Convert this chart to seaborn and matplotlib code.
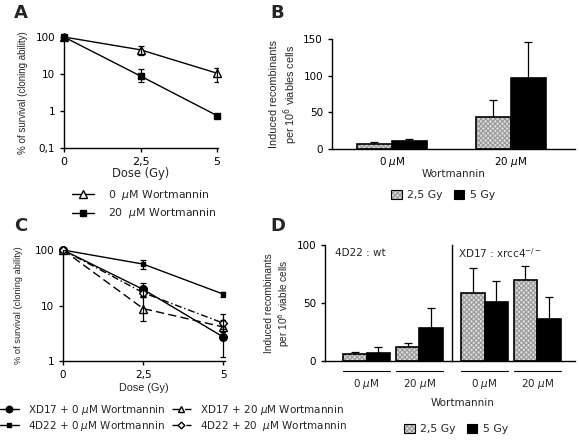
import numpy as np
import pandas as pd
import matplotlib
matplotlib.use("Agg")
import matplotlib.pyplot as plt
import matplotlib.transforms as mtransforms
import matplotlib.colors as mcolors
from matplotlib.patches import Patch
from matplotlib.lines import Line2D
import seaborn as sns

# ---------------- data ----------------
doses = [0, 2.5, 5]
dose_labels = ["0", "2,5", "5"]

# Panel A (survival, % ; low / high ends of error bars)
a_wm0 = [100, 45, 10.5]
a_wm0_lo = [100, 32, 6.2]
a_wm0_hi = [100, 57, 14.8]
a_wm20 = [100, 8.8, 0.75]
a_wm20_lo = [100, 6.2, 0.65]
a_wm20_hi = [100, 13.4, 0.85]

# Panel B (induced recombinants per 10^6 viable cells)
b_groups = ["0 $\\mu$M", "20 $\\mu$M"]
b_gy25 = [7, 44]
b_gy25_err = [2.5, 23]
b_gy5 = [10.5, 97]
b_gy5_err = [3.2, 49]

# Panel C (survival, %)
c_xd17_wm0 = [100, 19.5, 2.7]
c_xd17_wm0_lo = [100, 15, 1.2]
c_xd17_wm0_hi = [100, 25, 4.5]
c_4d22_wm0 = [100, 55.7, 16]
c_4d22_wm0_lo = [100, 45, 14.5]
c_4d22_wm0_hi = [100, 66, 17.5]
c_xd17_wm20 = [100, 8.8, 4.1]
c_xd17_wm20_lo = [100, 5.2, 3.3]
c_xd17_wm20_hi = [100, 14, 5.5]
c_4d22_wm20 = [100, 17, 4.8]
c_4d22_wm20_lo = [100, 14, 3.8]
c_4d22_wm20_hi = [100, 21, 7.0]

# Panel D
d_groups = ["0 $\\mu$M", "20 $\\mu$M"]
d_4d22_gy25 = [6.4, 12.1]
d_4d22_gy25_err = [1.4, 3.5]
d_4d22_gy5 = [7.3, 28.5]
d_4d22_gy5_err = [4.7, 16.8]
d_xd17_gy25 = [58.8, 69.5]
d_xd17_gy25_err = [21.6, 12.5]
d_xd17_gy5 = [50.5, 36.3]
d_xd17_gy5_err = [18.4, 19.0]

gy_levels = ["2,5 Gy", "5 Gy"]

# ---------------- style ----------------
sns.set_theme(style="ticks")
plt.rcParams["font.family"] = ["DejaVu Sans"]
plt.rcParams["font.size"] = 7.5
plt.rcParams["hatch.linewidth"] = 0.8
plt.rcParams["axes.linewidth"] = 1.0
plt.rcParams["xtick.major.width"] = 1.0
plt.rcParams["ytick.major.width"] = 1.0
plt.rcParams["xtick.major.size"] = 3
plt.rcParams["ytick.major.size"] = 3
plt.rcParams["xtick.labelsize"] = 7.5
plt.rcParams["ytick.labelsize"] = 7.5
plt.rcParams["axes.labelsize"] = 7.5

NARROW = ["Liberation Sans", "DejaVu Sans"]

W, H = 579, 444
fig = plt.figure(figsize=(W / 100, H / 100), dpi=100)


def rect(l, t, r, b):
    return [l / W, 1 - b / H, (r - l) / W, (b - t) / H]


GREY = "#dadada"
HATCH_GREY = "#9a9a9a"
palette = {gy_levels[0]: GREY, gy_levels[1]: "black"}


def hatch_patch(p):
    p.set_hatch("xxxxxxx")
    if hasattr(p, "set_hatchcolor"):
        p.set_hatchcolor(HATCH_GREY)
    else:
        p._hatch_color = mcolors.to_rgba(HATCH_GREY)


def style_axes(ax):
    for s in ["top", "right"]:
        ax.spines[s].set_visible(False)
    for s in ["left", "bottom"]:
        ax.spines[s].set_color("black")
    ax.tick_params(colors="black", direction="out")


def survival_line(ax, vals, lo, hi, marker, ls, mfc, ms, label):
    df = pd.DataFrame({"dose": doses, "surv": vals})
    sns.lineplot(data=df, x="dose", y="surv", ax=ax, color="black",
                 linestyle=ls, linewidth=1.0, marker=marker, markersize=ms,
                 markerfacecolor=mfc, markeredgecolor="black",
                 markeredgewidth=1.0, label=label, legend=False)
    ax.lines[-1].set_clip_on(False)
    v = np.array(vals)
    yerr = [v - np.array(lo), np.array(hi) - v]
    ax.errorbar(doses, v, yerr=yerr, fmt="none", ecolor="black",
                elinewidth=0.9, capsize=2.5, capthick=0.9)


def bars(ax, groups, v25, e25, v5, e5, width):
    df = pd.DataFrame({
        "group": [g for g in groups for _ in gy_levels],
        "gy": gy_levels * len(groups),
        "val": [v for pair in zip(v25, v5) for v in pair],
    })
    errs = [e for pair in zip(e25, e5) for e in pair]
    sns.barplot(data=df, x="group", y="val", hue="gy", palette=palette,
                order=groups, hue_order=gy_levels, width=width, gap=0,
                edgecolor="black", linewidth=1.2, errorbar=None,
                legend=False, ax=ax)
    pats = sorted(ax.patches, key=lambda p: p.get_x())
    for p, err in zip(pats, errs):
        if p.get_facecolor()[0] > 0.5:
            hatch_patch(p)
        xc = p.get_x() + p.get_width() / 2
        h = p.get_height()
        ax.errorbar([xc], [h], yerr=[[0], [err]], fmt="none", ecolor="black",
                    elinewidth=0.9, capsize=3, capthick=0.9, zorder=1)
        p.set_zorder(2)


def gy_handles():
    hp = Patch(facecolor=GREY, edgecolor="black", lw=0.8)
    hatch_patch(hp)
    return [hp, Patch(facecolor="black", edgecolor="black", lw=0.8)]


# ---------------- Panel A ----------------
axA = fig.add_axes(rect(64, 37, 218, 148))
survival_line(axA, a_wm0, a_wm0_lo, a_wm0_hi, "^", "-", "white", 5.5,
              "0  $\\mu$M Wortmannin")
survival_line(axA, a_wm20, a_wm20_lo, a_wm20_hi, "s", "-", "black", 4.5,
              "20  $\\mu$M Wortmannin")
axA.set_yscale("log")
axA.set_ylim(0.1, 100)
axA.set_xlim(0, 5.03)
axA.set_yticks([0.1, 1, 10, 100])
axA.set_yticklabels(["0,1", "1", "10", "100"])
axA.minorticks_off()
axA.set_xticks(doses)
axA.set_xticklabels(dose_labels, fontsize=8)
axA.set_xlabel("Dose (Gy)", labelpad=0, fontsize=8.3)
axA.set_ylabel("% of survival (cloning ability)", labelpad=5,
               fontsize=7.0, family=NARROW)
style_axes(axA)
hA = [Line2D([], [], color="black", lw=1.0, marker="^", mfc="white",
             mec="black", ms=5.5),
      Line2D([], [], color="black", lw=1.0, marker="s", mfc="black",
             mec="black", ms=4.5)]
fig.legend(hA, ["0  $\\mu$M Wortmannin", "20  $\\mu$M Wortmannin"],
           loc="upper left", bbox_to_anchor=(72 / W, 1 - 188 / H),
           frameon=False, fontsize=7.8, handlelength=2.0, handletextpad=1.3,
           labelspacing=0.4, borderpad=0, borderaxespad=0)

# ---------------- Panel B ----------------
axB = fig.add_axes(rect(332, 39, 575, 149))
bars(axB, b_groups, b_gy25, b_gy25_err, b_gy5, b_gy5_err, 0.59)
axB.set_xlim(-0.504, 1.54)
axB.set_ylim(0, 150)
axB.set_yticks([0, 50, 100, 150])
axB.set_xlabel("Wortmannin", labelpad=0)
axB.set_ylabel("Induced recombinants\nper 10$^6$ viables cells", labelpad=2,
               family=NARROW, fontsize=7.8)
axB.tick_params(axis="x", length=0, pad=4)
style_axes(axB)
fig.legend(gy_handles(), gy_levels, loc="center", ncol=2,
           bbox_to_anchor=(443 / W, 1 - 195 / H), frameon=False,
           fontsize=7.8, handlelength=1.0, handleheight=1.0,
           handletextpad=0.5, columnspacing=1.0, borderpad=0)

# ---------------- Panel C ----------------
axC = fig.add_axes(rect(63, 250, 225, 361))
c_series = [
    (c_xd17_wm0, c_xd17_wm0_lo, c_xd17_wm0_hi, "o", "-", "black", 5.5,
     "XD17 + 0 $\\mu$M Wortmannin"),
    (c_4d22_wm0, c_4d22_wm0_lo, c_4d22_wm0_hi, "s", "-", "black", 3.5,
     "4D22 + 0 $\\mu$M Wortmannin"),
    (c_xd17_wm20, c_xd17_wm20_lo, c_xd17_wm20_hi, "^", (0, (6, 3)), "white",
     5.5, "XD17 + 20 $\\mu$M Wortmannin"),
    (c_4d22_wm20, c_4d22_wm20_lo, c_4d22_wm20_hi, "D", (0, (5, 2, 1, 2)),
     "white", 4.0, "4D22 + 20  $\\mu$M Wortmannin"),
]
hC = []
for vals, lo, hi, mk, ls, mfc, ms, lab in c_series:
    survival_line(axC, vals, lo, hi, mk, ls, mfc, ms, lab)
    hC.append(Line2D([], [], color="black", lw=1.0, ls=ls, marker=mk,
                     mfc=mfc, mec="black", ms=ms * 0.85))
axC.set_yscale("log")
axC.set_ylim(1, 100)
axC.set_xlim(0, 5.05)
axC.set_yticks([1, 10, 100])
axC.set_yticklabels(["1", "10", "100"])
axC.minorticks_off()
axC.set_xticks(doses)
axC.set_xticklabels(dose_labels)
axC.set_xlabel("Dose (Gy)", labelpad=2, family=NARROW, fontsize=7.8)
axC.set_ylabel("% of survival (cloning ability)", labelpad=8,
               family=NARROW, fontsize=6.7)
style_axes(axC)
fig.legend(hC, [s[-1] for s in c_series], loc="upper left", ncol=2,
           bbox_to_anchor=(0 / W, 1 - 403 / H), frameon=False, fontsize=7.5,
           handlelength=1.8, handletextpad=0.9, columnspacing=0.6,
           labelspacing=0.15, borderpad=0, borderaxespad=0)

# ---------------- Panel D ----------------
axD1 = fig.add_axes(rect(325, 245, 452, 361))
axD2 = fig.add_axes(rect(452, 245, 575, 361), sharey=axD1)
bars(axD1, d_groups, d_4d22_gy25, d_4d22_gy25_err, d_4d22_gy5,
     d_4d22_gy5_err, 0.89)
bars(axD2, d_groups, d_xd17_gy25, d_xd17_gy25_err, d_xd17_gy5,
     d_xd17_gy5_err, 0.89)
axD1.set_xlim(-0.79, 1.62)
axD2.set_xlim(-0.62, 1.72)
axD1.set_ylim(0, 100)
axD1.set_yticks([0, 50, 100])
axD1.set_ylabel("Induced recombinants\nper 10$^6$ viable cells", labelpad=3,
                family=NARROW, fontsize=7.3)
for ax in (axD1, axD2):
    style_axes(ax)
    ax.set_xlabel("")
    ax.set_xticks([])
    trans = mtransforms.blended_transform_factory(ax.transData, ax.transAxes)
    for i, g in enumerate(d_groups):
        ax.plot([i - 0.45, i + 0.45], [-0.085, -0.085], color="black",
                lw=0.8, transform=trans, clip_on=False)
        ax.text(i, -0.2, g, transform=trans, ha="center", va="center",
                fontsize=7.5)
axD2.tick_params(axis="y", left=False, labelleft=False)
axD2.set_ylabel("")
axD1.text(0.08, 0.93, "4D22 : wt", transform=axD1.transAxes, ha="left",
          va="center", fontsize=7.5)
axD2.text(0.05, 0.93, "XD17 : xrcc4$^{-/-}$", transform=axD2.transAxes,
          ha="left", va="center", fontsize=7.5)
fig.text(463 / W, 1 - 403 / H, "Wortmannin", ha="center", va="center",
         fontsize=7.5)
fig.legend(gy_handles(), gy_levels, loc="center", ncol=2,
           bbox_to_anchor=(456 / W, 1 - 429 / H), frameon=False,
           fontsize=7.8, handlelength=1.0, handleheight=1.0,
           handletextpad=0.5, columnspacing=1.0, borderpad=0)

# ---------------- panel letters ----------------
for lx, ly, t in [(14, 13, "A"), (270, 13, "B"), (14, 226, "C"),
                  (270, 226, "D")]:
    fig.text(lx / W, 1 - ly / H, t, fontsize=13, fontweight="bold",
             ha="left", va="center")

fig.savefig("out.png", dpi=100)
